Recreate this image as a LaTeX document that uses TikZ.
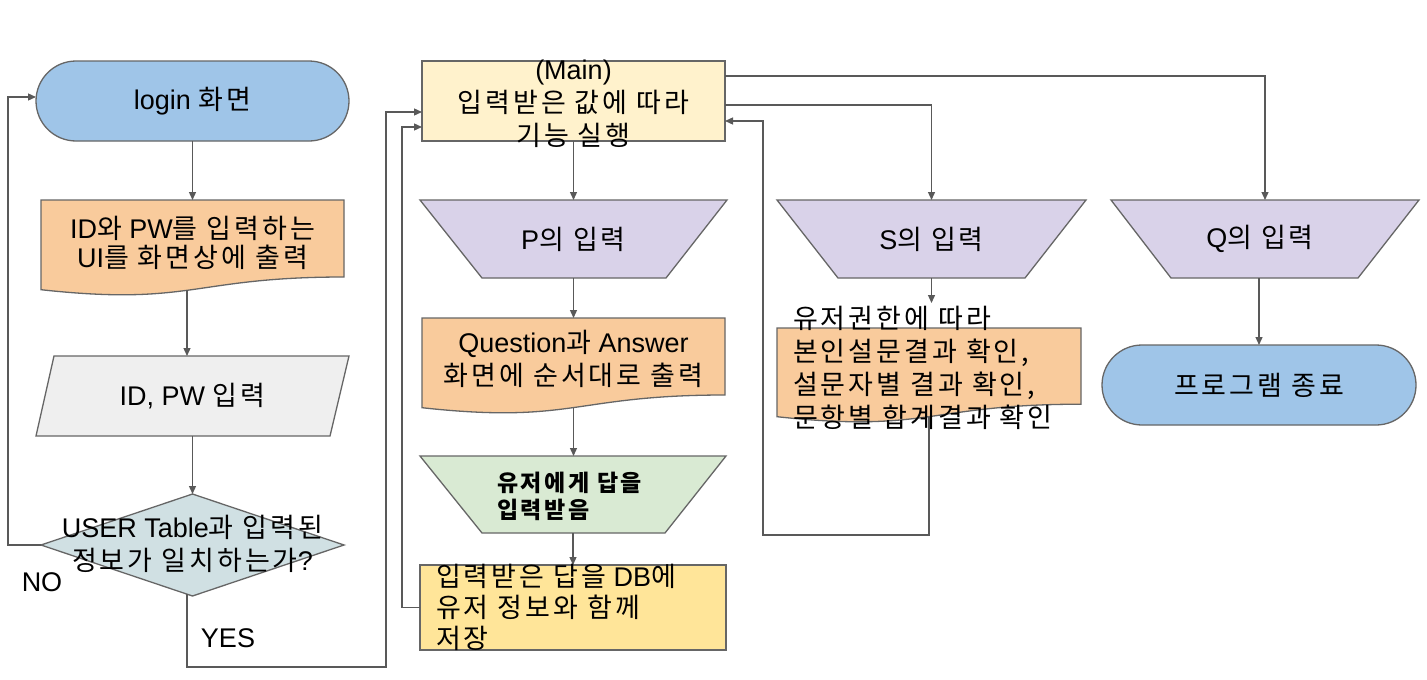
\documentclass[tikz,border=0pt]{standalone}
\usepackage{fontspec}
\setmainfont{Liberation Sans}
\newfontfamily\kr[LetterSpace=11]{Noto Sans CJK KR}
\usetikzlibrary{shapes.misc,arrows.meta}
\definecolor{cblue}{HTML}{9FC5E8}
\definecolor{corange}{HTML}{F9CB9C}
\definecolor{cgray}{HTML}{EFEFEF}
\definecolor{ccyan}{HTML}{D0E0E3}
\definecolor{cmain}{HTML}{FFF2CC}
\definecolor{cpurple}{HTML}{D9D2E9}
\definecolor{cgreen}{HTML}{D9EAD3}
\definecolor{cyellow}{HTML}{FFE599}
\definecolor{cstroke}{HTML}{666666}
\definecolor{cline}{HTML}{595959}
\newcommand\K[1]{{\kr #1}}
\newcommand\fsz{\fontsize{27}{33}\selectfont}
\tikzset{
  shp/.style={draw=cstroke, line width=1.3pt},
  frame/.style={draw=none, fill=none, rectangle, inner sep=0pt, outer sep=0pt},
  txt/.style={font=\fsz, inner sep=0pt, align=center},
  arr/.style={draw=cline, line width=1.3pt, -{Triangle[length=8pt,width=7pt]}},
  lbl/.style={font=\fsz, inner sep=0pt},
}
\begin{document}
\begin{tikzpicture}[x=1pt,y=-1pt]
\useasboundingbox (0,0) rectangle (1427,680);
\fill[white] (0,0) rectangle (1427,680);

% ---------- frames (named, invisible) ----------
\node[frame, minimum width=303pt, minimum height=90pt]  (doc1)  at (192.5,245) {};
\node[frame, minimum width=313pt, minimum height=80pt]  (par)   at (192.5,396) {};
\node[frame, minimum width=303pt, minimum height=102pt] (dec)   at (192.5,545) {};
\node[frame, minimum width=307pt, minimum height=78pt]  (P)     at (573.5,239) {};
\node[frame, minimum width=303pt, minimum height=90pt]  (doc2)  at (573.5,363) {};
\node[frame, minimum width=306pt, minimum height=77pt]  (green) at (573,494.5) {};
\node[frame, minimum width=309pt, minimum height=78pt]  (S)     at (931.5,239) {};
\node[frame, minimum width=308pt, minimum height=78pt]  (Q)     at (1265,239) {};
\node[frame, minimum width=304pt, minimum height=88.6pt] (doc3) at (929,372.3) {};

% ---------- shapes ----------
\node[shp, fill=cblue, rounded rectangle, minimum width=313pt, minimum height=80pt, inner sep=0pt, outer sep=0pt] (login) at (192.5,101) {};
\filldraw[shp, fill=corange] (41,200) -- (344,200) -- (344,277) .. controls (192.5,277) and (192.5,306.3) .. (41,289.7) -- cycle;
\filldraw[shp, fill=cgray] (54,356) -- (349,356) -- (330,436) -- (36,436) -- cycle;
\filldraw[shp, fill=ccyan] (dec.north) -- (dec.east) -- (dec.south) -- (dec.west) -- cycle;

\node[shp, fill=cmain, rectangle, minimum width=303pt, minimum height=80pt, inner sep=0pt, outer sep=0pt] (main) at (573.5,101) {};
\filldraw[shp, fill=cpurple] (P.north west) -- (P.north east) -- ([xshift=-61pt]P.south east) -- ([xshift=62pt]P.south west) -- cycle;
\filldraw[shp, fill=corange] (422,318) -- (725,318) -- (725,395) .. controls (573.5,395) and (573.5,424.3) .. (422,407.7) -- cycle;
\filldraw[shp, fill=cgreen] (green.north west) -- (green.north east) -- ([xshift=-61pt]green.south east) -- ([xshift=62pt]green.south west) -- cycle;
\node[shp, fill=cyellow, rectangle, minimum width=306pt, minimum height=85pt, inner sep=0pt, outer sep=0pt] (store) at (573,607.5) {};

\filldraw[shp, fill=cpurple] (S.north west) -- (S.north east) -- ([xshift=-61pt]S.south east) -- ([xshift=61pt]S.south west) -- cycle;
\filldraw[shp, fill=corange] (777,328) -- (1081,328) -- (1081,404.2) .. controls (929,404.2) and (929,433.2) .. (777,416.7) -- cycle;
\filldraw[shp, fill=cpurple] (Q.north west) -- (Q.north east) -- ([xshift=-61pt]Q.south east) -- ([xshift=60pt]Q.south west) -- cycle;
\node[shp, fill=cblue, rounded rectangle, minimum width=314pt, minimum height=80pt, inner sep=0pt, outer sep=0pt] (term) at (1259,385) {};

% ---------- connectors ----------
\coordinate (nox) at (8,0);
\coordinate (yesc) at (386,667);
\coordinate (stx) at (402,0);
\coordinate (sEnd) at (931.5,303);
\coordinate (rc) at (763,535);

\draw[arr] (login.south) -- (doc1.north);
\draw[arr] ([xshift=-5.5pt]doc1.south) -- ([xshift=-5.5pt]par.north);
\draw[arr] (par.south) -- (dec.north);
\draw[arr] (dec.west) -- (dec.west -| nox) |- ([yshift=4pt]login.west);
\draw[arr] ([xshift=-5.5pt,yshift=2pt]dec.south) |- (yesc) |- ([yshift=-11pt]main.west);
\draw[arr] (store.west) -- (store.west -| stx) |- ([yshift=-26pt]main.west);

\draw[arr] (main.south) -- (P.north);
\draw[arr] (P.south) -- (doc2.north);
\draw[arr] (doc2.south) -- (doc2.south |- green.north);
\draw[arr] (green.south) -- (store.north);

\draw[arr] ([yshift=-4pt]main.east) -| (S.north);
\draw[arr] ([yshift=25pt]main.east) -| (Q.north);
\draw[arr] (S.south) -- (sEnd);
\draw[arr] (doc3.south) |- (rc) |- ([yshift=-20pt]main.east);
\draw[arr] (term.north |- Q.south) -- (term.north);

% ---------- texts ----------
\node[txt] at (login.center) {login \K{화면}};
\node[txt, font=\fontsize{27}{29}\selectfont] at (192.5,243) {ID\K{와} PW\K{를 입력하는}\\UI\K{를 화면상에 출력}};
\node[txt] at (par.center) {ID, PW \K{입력}};
\node[txt] at (192.5,543.5) {USER Table\K{과 입력된}\\\K{정보가 일치하는가}?};
\node[lbl] at (42,582) {NO};
\node[lbl] at (228,638) {YES};

\node[txt] at (573.5,104) {(Main)\\\K{입력받은 값에 따라}\\\K{기능 실행}};
\node[txt] at (P.center) {P\K{의 입력}};
\node[txt] at (573.5,358.5) {Question\K{과} Answer\\\K{화면에 순서대로 출력}};
\node[txt, align=left, anchor=west, font=\fontsize{23}{27}\selectfont\kr\bfseries] at (497,496.5) {유저에게 답을\\입력받음};
\node[txt, align=left, anchor=west, font=\fontsize{27}{31}\selectfont] at (436,607) {\K{입력받은 답을} DB\K{에}\\\K{유저 정보와 함께}\\\K{저장}};

\node[txt] at (S.center) {S\K{의 입력}};
\node[txt] at (1260,239) {Q\K{의 입력}};
\node[txt, align=left, anchor=west] at (793,368) {\K{유저권한에 따라}\\\K{본인설문결과 확인,}\\\K{설문자별 결과 확인,}\\\K{문항별 합계결과 확인}};
\node[txt] at (term.center) {\K{프로그램 종료}};
\end{tikzpicture}
\end{document}
